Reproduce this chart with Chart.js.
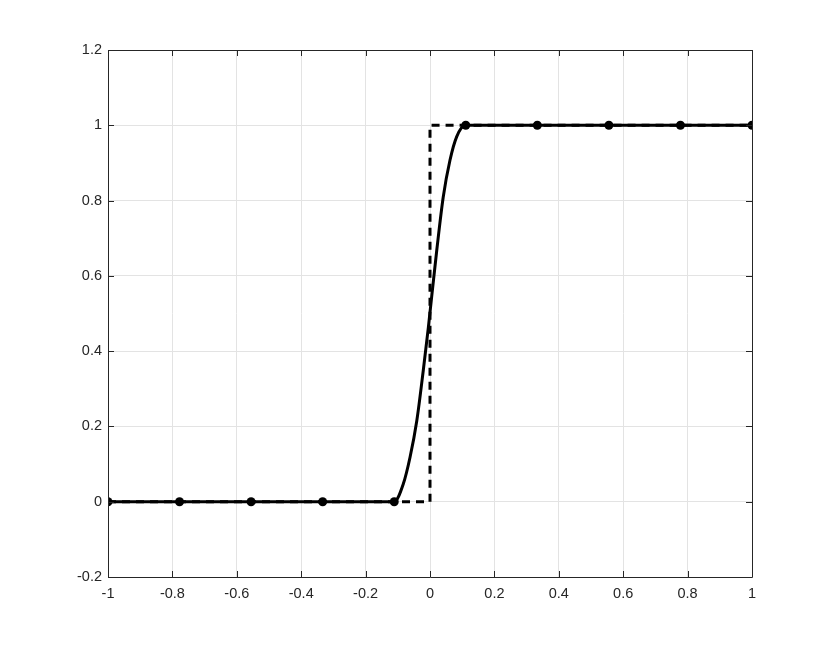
<!DOCTYPE html>
<html>
<head>
<meta charset="utf-8">
<script src="https://cdn.jsdelivr.net/npm/chart.js@4/dist/chart.umd.min.js"></script>
<style>
  html, body { margin: 0; padding: 0; background: #fff; }
  #wrap { width: 830px; height: 648px; }
</style>
</head>
<body>
<div id="wrap"><canvas id="plot"></canvas></div>
<script>
// node positions and values (markers)
const nodeX = [-1, -0.7778, -0.5556, -0.3333, -0.1111, 0.1111, 0.3333, 0.5556, 0.7778, 1];
const nodeY = [0, 0, 0, 0, 0, 1, 1, 1, 1, 1];

// smooth interpolant
const curveX = [-1, -0.1111, -0.083, -0.062, -0.041, -0.021, -0.005, 0.005, 0.021, 0.041, 0.062, 0.083, 0.1111, 1];
const curveY = [0, 0, 0.047, 0.118, 0.215, 0.348, 0.464, 0.543, 0.668, 0.809, 0.907, 0.970, 1, 1];

// dashed step function
const stepX = [-1, 0, 0, 1];
const stepY = [0, 0, 1, 1];

const xTicks = [-1, -0.8, -0.6, -0.4, -0.2, 0, 0.2, 0.4, 0.6, 0.8, 1];
const yTicks = [-0.2, 0, 0.2, 0.4, 0.6, 0.8, 1, 1.2];

const pts = (xs, ys) => xs.map((x, i) => ({ x: x, y: ys[i] }));
const fmt = v => String(Number(v.toFixed(1)));

// box + inward tick marks, matlab style
const boxTicks = {
  id: 'boxTicks',
  afterDraw(chart) {
    const { ctx, chartArea: a, scales } = chart;
    ctx.save();
    ctx.strokeStyle = '#262626';
    ctx.lineWidth = 1;
    ctx.beginPath();
    ctx.rect(Math.round(a.left) + 0.5, Math.round(a.top) + 0.5, Math.round(a.right - a.left), Math.round(a.bottom - a.top));
    const len = 6;
    xTicks.forEach(t => {
      const px = Math.round(scales.x.getPixelForValue(t)) + 0.5;
      ctx.moveTo(px, a.bottom); ctx.lineTo(px, a.bottom - len);
      ctx.moveTo(px, a.top); ctx.lineTo(px, a.top + len);
    });
    yTicks.forEach(t => {
      const py = Math.round(scales.y.getPixelForValue(t)) + 0.5;
      ctx.moveTo(a.left, py); ctx.lineTo(a.left + len, py);
      ctx.moveTo(a.right, py); ctx.lineTo(a.right - len, py);
    });
    ctx.stroke();
    ctx.restore();
  }
};

const ctx = document.getElementById('plot').getContext('2d');
new Chart(ctx, {
  type: 'scatter',
  data: {
    datasets: [
      {
        data: pts(nodeX, nodeY),
        showLine: false,
        pointRadius: 4.5,
        pointBackgroundColor: '#000',
        pointBorderColor: '#000',
        borderWidth: 0
      },
      {
        data: pts(curveX, curveY),
        showLine: true,
        borderColor: '#000',
        borderWidth: 3,
        pointRadius: 0,
        cubicInterpolationMode: 'monotone'
      },
      {
        data: pts(stepX, stepY),
        showLine: true,
        borderColor: '#000',
        borderWidth: 3,
        borderDash: [8, 6],
        pointRadius: 0,
        tension: 0
      }
    ]
  },
  options: {
    responsive: true,
    maintainAspectRatio: false,
    animation: false,
    layout: { padding: { left: 0, right: 78, top: 50, bottom: 0 } },
    plugins: { legend: { display: false }, tooltip: { enabled: false } },
    scales: {
      x: {
        type: 'linear',
        min: -1, max: 1,
        afterBuildTicks: s => { s.ticks = xTicks.map(v => ({ value: v })); },
        afterFit: s => { s.height = 71; },
        ticks: {
          color: '#262626',
          font: { family: 'Liberation Sans', size: 14.5 },
          padding: 8,
          maxRotation: 0,
          callback: v => fmt(v)
        },
        grid: { color: '#e3e3e3', drawTicks: false },
        border: { display: false }
      },
      y: {
        type: 'linear',
        min: -0.2, max: 1.2,
        afterBuildTicks: s => { s.ticks = yTicks.map(v => ({ value: v })); },
        afterFit: s => { s.width = 108; },
        ticks: {
          color: '#262626',
          font: { family: 'Liberation Sans', size: 14.5 },
          padding: 6,
          callback: v => fmt(v)
        },
        grid: { color: '#e3e3e3', drawTicks: false },
        border: { display: false }
      }
    }
  },
  plugins: [boxTicks]
});
</script>
</body>
</html>
